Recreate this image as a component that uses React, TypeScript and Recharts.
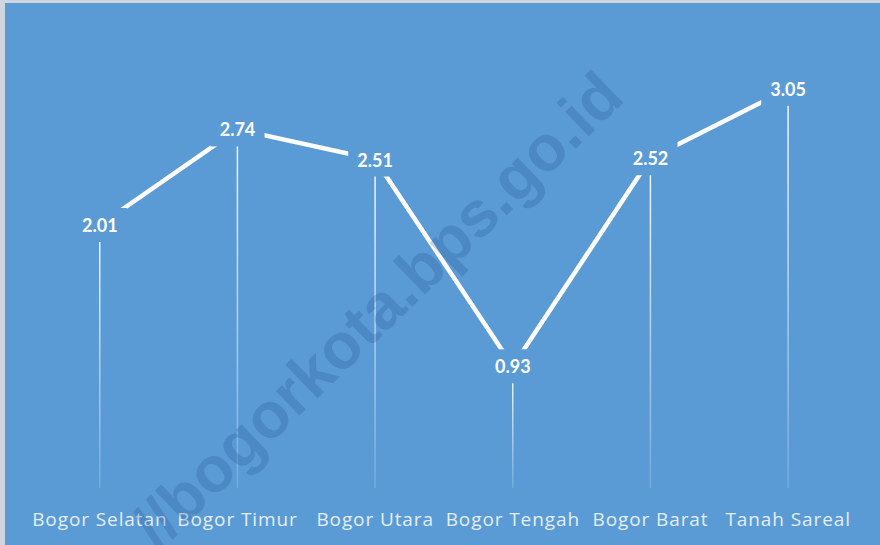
import { ComposedChart, Line, Bar, XAxis, YAxis, LabelList } from 'recharts';

const kecamatan = [
    'Bogor Selatan',
    'Bogor Timur',
    'Bogor Utara',
    'Bogor Tengah',
    'Bogor Barat',
    'Tanah Sareal',
];
const nilai = [2.01, 2.74, 2.51, 0.93, 2.52, 3.05];

const BG = '#5b9bd5';

const data = kecamatan.map((nama, i) => ({ nama, nilai: nilai[i] }));

// label nilai dengan kotak latar biru supaya garis terputus di sekitarnya
const DataLabel = (props: any) => {
    const { x, y, value } = props;
    return (
        <g>
            <rect x={x - 27} y={y - 17} width={54} height={34} fill={BG} />
            <text
                x={x}
                y={y}
                textAnchor="middle"
                dominantBaseline="central"
                fill="#ffffff"
                fontFamily="Lato, 'Open Sans', sans-serif"
                fontWeight={700}
                fontSize={18}
            >
                {value.toFixed(2)}
            </text>
        </g>
    );
};

const Tick = (props: any) => {
    const { x, y, payload } = props;
    return (
        <text
            x={x}
            y={y + 23}
            textAnchor="middle"
            dominantBaseline="central"
            fill="#e3edf8"
            fontFamily="'Open Sans', sans-serif"
            fontSize={19}
            letterSpacing={0.9}
        >
            {payload.value}
        </text>
    );
};

export default function App() {
    return (
        <div
            style={{
                position: 'fixed',
                top: 0,
                left: 0,
                width: 880,
                height: 545,
                background: '#cfd6de',
                overflow: 'hidden',
            }}
        >
            <div
                style={{
                    position: 'absolute',
                    left: 5,
                    top: 3,
                    width: 875,
                    height: 542,
                    background: BG,
                }}
            />
            <div style={{ position: 'absolute', left: 0, top: 0 }}>
                <ComposedChart
                    width={880}
                    height={545}
                    data={data}
                    margin={{ top: 30, right: 23, bottom: 0, left: 31 }}
                >
                    <defs>
                        <linearGradient id="drop" x1="0" y1="0" x2="0" y2="1">
                            <stop offset="0%" stopColor="#ffffff" stopOpacity={0.95} />
                            <stop offset="100%" stopColor="#ffffff" stopOpacity={0.15} />
                        </linearGradient>
                    </defs>
                    <XAxis
                        dataKey="nama"
                        axisLine={false}
                        tickLine={false}
                        height={57}
                        interval={0}
                        tick={<Tick />}
                    />
                    <YAxis hide domain={[0, 3.5]} />
                    <Bar
                        dataKey="nilai"
                        barSize={1.5}
                        fill="url(#drop)"
                        isAnimationActive={false}
                    />
                    <Line
                        type="linear"
                        dataKey="nilai"
                        stroke="#ffffff"
                        strokeWidth={4.5}
                        dot={false}
                        activeDot={false}
                        isAnimationActive={false}
                    >
                        <LabelList dataKey="nilai" content={<DataLabel />} />
                    </Line>
                </ComposedChart>
            </div>
            <div
                style={{
                    position: 'absolute',
                    left: 377,
                    top: 310,
                    transform: 'translate(-50%, -50%) rotate(-44deg)',
                    whiteSpace: 'nowrap',
                    fontFamily: "'Liberation Sans', Arial, sans-serif",
                    fontWeight: 700,
                    fontSize: 64,
                    color: 'rgba(25, 70, 135, 0.22)',
                    pointerEvents: 'none',
                }}
            >
                //bogorkota.bps.go.id
            </div>
        </div>
    );
}
